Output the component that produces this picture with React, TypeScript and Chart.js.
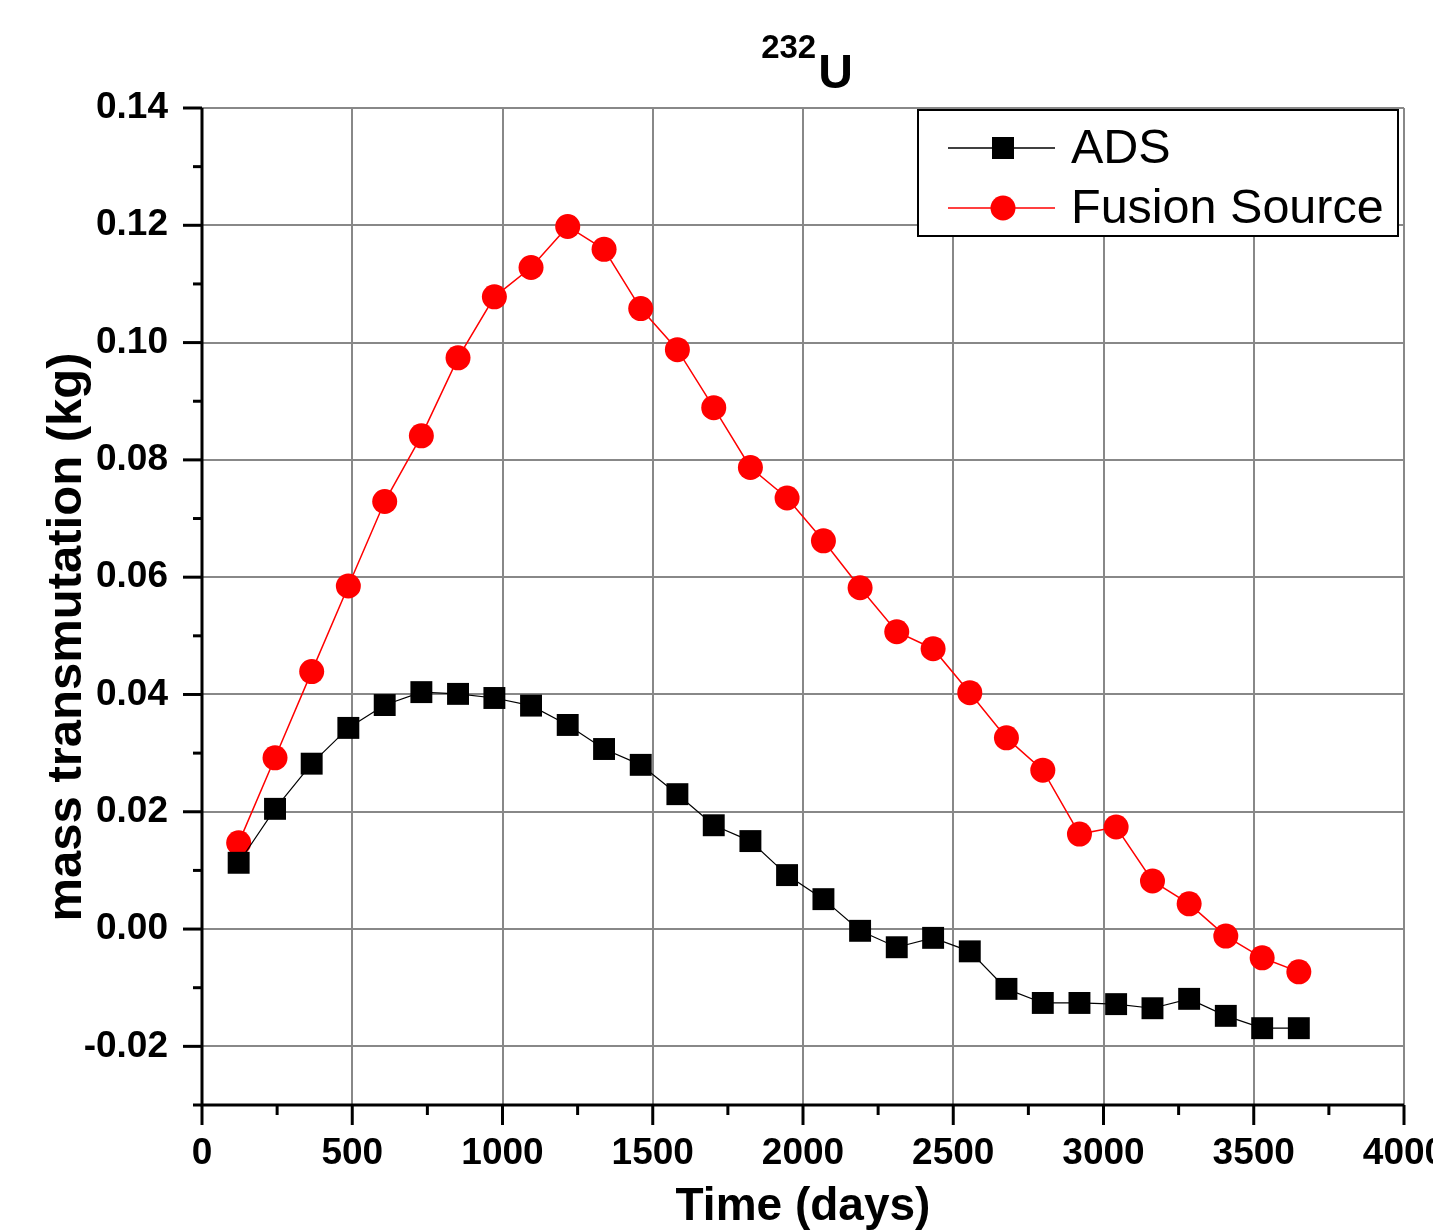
import React, { useEffect, useRef } from "react";
import { Chart, registerables } from "chart.js";

Chart.register(...registerables);

const days = [122, 243, 365, 487, 608, 730, 852, 973, 1095, 1217, 1338, 1460, 1582, 1703, 1825, 1947, 2068, 2190, 2312, 2433, 2555, 2677, 2798, 2920, 3042, 3163, 3285, 3407, 3528, 3650];
const adsValues = [0.0113, 0.0205, 0.0282, 0.0343, 0.0382, 0.0404, 0.0401, 0.0394, 0.0381, 0.0348, 0.0307, 0.028, 0.023, 0.0177, 0.015, 0.0092, 0.0051, -0.0003, -0.0031, -0.0015, -0.0038, -0.0102, -0.0126, -0.0126, -0.0128, -0.0135, -0.0119, -0.0148, -0.0169, -0.0169];
const fusionValues = [0.0147, 0.0292, 0.0439, 0.0585, 0.0729, 0.0841, 0.0974, 0.1078, 0.1128, 0.1198, 0.1159, 0.1058, 0.0988, 0.0889, 0.0787, 0.0735, 0.0662, 0.0582, 0.0507, 0.0478, 0.0403, 0.0326, 0.0271, 0.0162, 0.0174, 0.0082, 0.0043, -0.0012, -0.0049, -0.0073];
const seriesNames = ["ADS", "Fusion Source"];
const xTickValues = [0, 250, 500, 750, 1000, 1250, 1500, 1750, 2000, 2250, 2500, 2750, 3000, 3250, 3500, 3750, 4000];
const yTickValues = [-0.03, -0.02, -0.01, 0, 0.01, 0.02, 0.03, 0.04, 0.05, 0.06, 0.07, 0.08, 0.09, 0.1, 0.11, 0.12, 0.13, 0.14];
const titleSup = "232";
const titleMain = "U";
const xTitle = "Time (days)";
const yTitle = "mass transmutation (kg)";

const FONT = "'Liberation Sans', Arial, sans-serif";

const isMajorX = (v: number) => Math.round(v) % 500 === 0;
const isMajorY = (v: number) => Math.round(v * 100) % 2 === 0;

const decorPlugin = {
  id: "decor",
  afterDraw(chart: any) {
    const ctx = chart.ctx;
    const area = chart.chartArea;
    const xs = chart.scales.x;
    const ys = chart.scales.y;
    ctx.save();
    ctx.strokeStyle = "#000";
    ctx.lineWidth = 3;
    ctx.beginPath();
    ctx.moveTo(area.left, area.top);
    ctx.lineTo(area.left, area.bottom);
    ctx.lineTo(area.right, area.bottom);
    ctx.stroke();
    ys.ticks.forEach((t: any) => {
      const py = ys.getPixelForValue(t.value);
      const len = isMajorY(t.value) ? 19 : 9;
      ctx.beginPath();
      ctx.moveTo(area.left - len, py);
      ctx.lineTo(area.left, py);
      ctx.stroke();
    });
    xs.ticks.forEach((t: any) => {
      const px = xs.getPixelForValue(t.value);
      const len = isMajorX(t.value) ? 20 : 10;
      ctx.beginPath();
      ctx.moveTo(px, area.bottom);
      ctx.lineTo(px, area.bottom + len);
      ctx.stroke();
    });
    // title
    ctx.fillStyle = "#000";
    ctx.textBaseline = "alphabetic";
    ctx.textAlign = "left";
    ctx.font = `bold 48px ${FONT}`;
    const uW = ctx.measureText(titleMain).width;
    ctx.font = `bold 33px ${FONT}`;
    const sW = ctx.measureText(titleSup).width;
    const startX = 806 - (uW + sW) / 2;
    ctx.fillText(titleSup, startX, 58);
    ctx.font = `bold 48px ${FONT}`;
    ctx.fillText(titleMain, startX + sW + 2, 88);
    // x title
    ctx.textAlign = "center";
    ctx.font = `bold 46px ${FONT}`;
    ctx.fillText(xTitle, 803, 1220);
    // y title
    ctx.save();
    ctx.translate(81, 637);
    ctx.rotate(-Math.PI / 2);
    ctx.font = `bold 49px ${FONT}`;
    ctx.fillText(yTitle, 0, 0);
    ctx.restore();
    // legend
    const lx = 918, ly = 110, lw = 480, lh = 126;
    ctx.fillStyle = "#fff";
    ctx.fillRect(lx, ly, lw, lh);
    ctx.strokeStyle = "#000";
    ctx.lineWidth = 2;
    ctx.strokeRect(lx, ly, lw, lh);
    const rows = [
      { name: seriesNames[0], color: "#000", y: 148, shape: "rect" },
      { name: seriesNames[1], color: "#ff0000", y: 208, shape: "circle" },
    ];
    rows.forEach((r) => {
      ctx.strokeStyle = r.color;
      ctx.lineWidth = 1.5;
      ctx.beginPath();
      ctx.moveTo(948, r.y);
      ctx.lineTo(1055, r.y);
      ctx.stroke();
      ctx.fillStyle = r.color;
      if (r.shape === "rect") {
        ctx.fillRect(1003 - 11, r.y - 11, 22, 22);
      } else {
        ctx.beginPath();
        ctx.arc(1003, r.y, 12.5, 0, Math.PI * 2);
        ctx.fill();
      }
      ctx.fillStyle = "#000";
      ctx.textAlign = "left";
      ctx.textBaseline = "middle";
      ctx.font = `48.5px ${FONT}`;
      ctx.fillText(r.name, 1071, r.y + 2);
    });
    ctx.restore();
  },
};

export default function App() {
  const ref = useRef<HTMLCanvasElement | null>(null);
  useEffect(() => {
    if (!ref.current) return;
    const chart = new Chart(ref.current, {
      type: "line",
      data: {
        datasets: [
          {
            label: seriesNames[0],
            data: days.map((d, i) => ({ x: d, y: adsValues[i] })),
            borderColor: "#000",
            backgroundColor: "#000",
            borderWidth: 1.2,
            pointStyle: "rect",
            pointRadius: 15.5,
            pointBorderWidth: 0,
            tension: 0,
          },
          {
            label: seriesNames[1],
            data: days.map((d, i) => ({ x: d, y: fusionValues[i] })),
            borderColor: "#ff0000",
            backgroundColor: "#ff0000",
            borderWidth: 1.5,
            pointStyle: "circle",
            pointRadius: 12.5,
            pointBorderWidth: 0,
            tension: 0,
          },
        ],
      },
      options: {
        responsive: false,
        animation: false,
        devicePixelRatio: 1,
        layout: { padding: { top: 108, right: 29, left: 0, bottom: 0 } },
        plugins: { legend: { display: false }, title: { display: false }, tooltip: { enabled: false } },
        scales: {
          x: {
            type: "linear",
            min: 0,
            max: 4000,
            border: { display: false },
            afterBuildTicks: (scale: any) => {
              scale.ticks = xTickValues.map((v) => ({ value: v }));
            },
            afterFit: (scale: any) => {
              scale.height = 125;
              scale.paddingLeft = 0;
              scale.paddingRight = 0;
            },
            grid: {
              drawTicks: false,
              lineWidth: 2,
              color: (c: any) => (c.tick && isMajorX(c.tick.value) && c.tick.value !== 0 ? "#888888" : "rgba(0,0,0,0)"),
            },
            ticks: {
              padding: 27,
              maxRotation: 0,
              autoSkip: false,
              color: "#000",
              font: { family: FONT, size: 37, weight: "bold" },
              callback: (v: any) => (isMajorX(Number(v)) ? String(v) : ""),
            },
          },
          y: {
            type: "linear",
            min: -0.03,
            max: 0.14,
            border: { display: false },
            afterBuildTicks: (scale: any) => {
              scale.ticks = yTickValues.map((v) => ({ value: v }));
            },
            afterFit: (scale: any) => {
              scale.width = 202;
              scale.paddingTop = 0;
              scale.paddingBottom = 0;
            },
            grid: {
              drawTicks: false,
              lineWidth: 2,
              color: (c: any) => (c.tick && isMajorY(c.tick.value) ? "#888888" : "rgba(0,0,0,0)"),
            },
            ticks: {
              padding: 34,
              autoSkip: false,
              color: "#000",
              font: { family: FONT, size: 37, weight: "bold" },
              callback: (v: any) => (isMajorY(Number(v)) ? Number(v).toFixed(2) : ""),
            },
          },
        },
      },
      plugins: [decorPlugin],
    } as any);
    return () => chart.destroy();
  }, []);
  return (
    <div style={{ position: "absolute", left: 0, top: 0, width: 1433, height: 1230, background: "#fff" }}>
      <canvas ref={ref} width={1433} height={1230} style={{ width: 1433, height: 1230 }} />
    </div>
  );
}
